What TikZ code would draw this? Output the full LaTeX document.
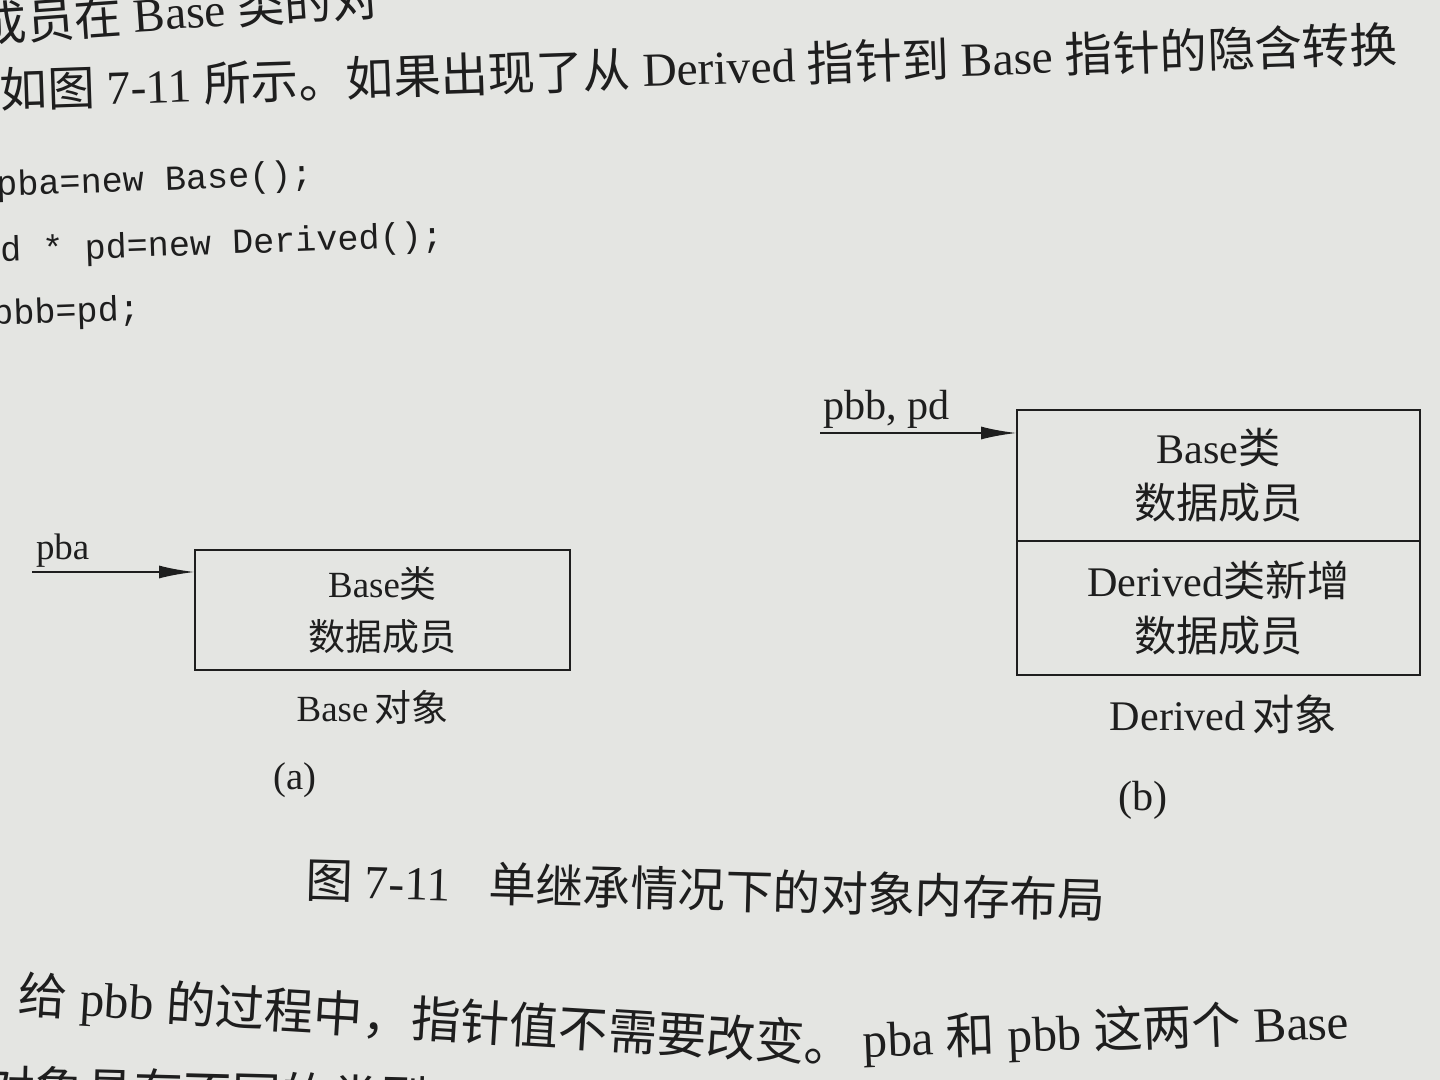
\documentclass[tikz,border=0pt]{standalone}
\usepackage{fontspec}
\setmainfont{Liberation Serif}
\setmonofont{Liberation Mono}
\newfontfamily\cjk{Noto Sans CJK SC}
\usepackage{tikz}
\usetikzlibrary{arrows.meta,positioning,calc}
\definecolor{paper}{RGB}{228,229,226}
\definecolor{ink}{RGB}{30,30,30}

\begin{document}
\begin{tikzpicture}[
    >=Latex,
    cell/.style={
        draw=ink, line width=0.7pt, text=ink,
        align=center, inner sep=0pt, outer sep=0pt},
    lbl/.style={text=ink, inner sep=0pt, outer sep=0pt},
    body/.style={
        text=ink, inner sep=0pt, anchor=base west,
        font=\fontsize{13.5}{16}\selectfont},
    code/.style={
        text=ink, inner sep=0pt, anchor=base west, rotate=2,
        font=\ttfamily\fontsize{10}{12}\selectfont},
    arr/.style={-{Latex[length=3.6mm,width=1.3mm]}, line width=0.7pt, draw=ink}
]

%% ══════════════════════════════ PAGE ══════════════════════════════
\useasboundingbox (0,0) rectangle (14.4,-10.8);
\fill[paper] (0,0) rectangle (14.4,-10.8);
\clip (0,0) rectangle (14.4,-10.8);

%% ══════════════════════════════ TEXT ABOVE ══════════════════════════════
\node[body, rotate=4] (txt_l1) at (-0.2,-0.43)
    {{\cjk 成员在} Base {\cjk 类的对}};
\node[body, rotate=1.9] (txt_l2) at (0,-1.08)
    {{\cjk 如图} 7-11 {\cjk 所示。如果出现了从} Derived {\cjk 指针到} Base {\cjk 指针的隐含转换}};

\node[code] (code_1) at (-0.04,-1.96) {pba=new Base();};
\node[code] (code_2) at (0,-2.62)     {d * pd=new Derived();};
\node[code] (code_3) at (-0.08,-3.25) {pbb=pd;};

%% ══════════════════════════════ (a) BASE OBJECT ══════════════════════════════
\node[cell, minimum width=3.75cm, minimum height=1.2cm,
      font=\fontsize{10.5}{15}\selectfont] (base_obj) at (3.825,-6.10)
    {Base{\cjk 类}\\{\cjk 数据成员}};

\coordinate (pba_tail) at (0.32,-5.72);
\draw[arr] (pba_tail) -- (pba_tail -| base_obj.west);
\node[lbl, anchor=base west, font=\fontsize{10.5}{12}\selectfont] (pba_lbl)
    at (0.36,-5.60) {pba};

\node[lbl, below=2mm of base_obj, xshift=-1mm,
      font=\fontsize{10.5}{12}\selectfont] (base_cap) {Base\,{\cjk 对象}};
\node[lbl, font=\fontsize{11}{13}\selectfont] (sub_a) at (2.95,-7.80) {(a)};

%% ══════════════════════════════ (b) DERIVED OBJECT ══════════════════════════════
\node[cell, minimum width=4.03cm, minimum height=1.31cm,
      font=\fontsize{12}{15.6}\selectfont] (der_base) at (12.185,-4.755)
    {Base{\cjk 类}\\{\cjk 数据成员}};
\node[cell, below=0pt of der_base, minimum width=4.03cm, minimum height=1.34cm,
      font=\fontsize{12}{15.6}\selectfont] (der_new)
    {Derived{\cjk 类新增}\\{\cjk 数据成员}};

\coordinate (pbb_tail) at (8.20,-4.33);
\draw[arr] (pbb_tail) -- (pbb_tail -| der_base.west);
\node[lbl, anchor=base west, font=\fontsize{12}{14}\selectfont] (pbb_lbl)
    at (8.23,-4.20) {pbb, pd};

\node[lbl, below=2mm of der_new, xshift=0.5mm,
      font=\fontsize{12}{14}\selectfont] (der_cap) {Derived\,{\cjk 对象}};
\node[lbl, font=\fontsize{12}{14}\selectfont] (sub_b) at (11.43,-8.00) {(b)};

%% ══════════════════════════════ CAPTION + TEXT BELOW ══════════════════════════════
\node[body, rotate=-1.5] (fig_cap) at (3.05,-8.97)
    {{\cjk 图} 7-11\hspace{0.8em}{\cjk 单继承情况下的对象内存布局}};

\node[body, rotate=-3.5, font=\fontsize{14}{16}\selectfont] (txt_l3a) at (0.17,-10.12)
    {{\cjk 给} pbb {\cjk 的过程中，指针值不需要改变。}};
\node[body, rotate=2.3, font=\fontsize{14}{16}\selectfont] (txt_l3b) at (8.63,-10.58)
    {pba {\cjk 和} pbb {\cjk 这两个} Base};
\node[body, rotate=-1.5, font=\fontsize{14}{16}\selectfont] (txt_l4) at (-0.15,-11.06)
    {{\cjk 对象具有不同的类型}};

\end{tikzpicture}
\end{document}
